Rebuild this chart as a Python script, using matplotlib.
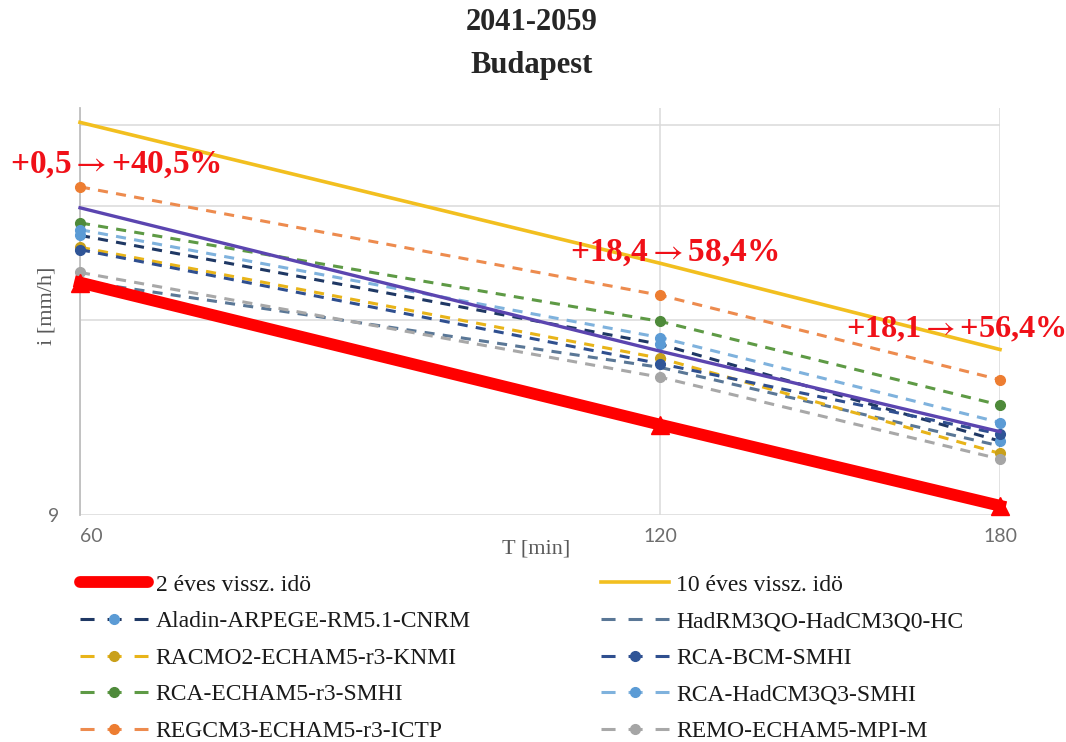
import matplotlib
matplotlib.use("Agg")
import matplotlib.pyplot as plt
from matplotlib.ticker import FixedLocator, FixedFormatter, NullLocator
from matplotlib.lines import Line2D

plt.rcParams["mathtext.fontset"] = "stix"

# Duration of the rain event [min]
durations = [60, 120, 180]
duration_labels = ["60", "120", "180"]

# Rain intensity i [mm/h]
ret_2yr = [20.55, 12.4, 9.3]
ret_10yr = [36.3, 22.0, 16.2]
ensemble_mean = [26.8, 16.1, 12.1]
aladin = [24.3, 16.5, 11.7]
hadrm3 = [20.65, 15.2, 11.5]
racmo2 = [23.3, 15.7, 11.2]
rca_bcm = [23.1, 15.4, 12.0]
rca_echam5 = [25.4, 17.9, 13.3]
rca_hadcm3q3 = [24.8, 16.9, 12.5]
regcm3 = [28.87, 19.64, 14.55]
remo = [21.3, 14.68, 10.98]

y_ticks = [9, 18, 27, 36]
y_tick_labels = ["9", "", "", ""]

change_labels = ["+0,5$\\rightarrow$+40,5%", "+18,4$\\rightarrow$58,4%",
                 "+18,1$\\rightarrow$+56,4%"]

W, H = 1066, 742
fig = plt.figure(figsize=(W / 100, H / 100), dpi=100)
ax = fig.add_axes([80 / W, 1 - 515 / H, 920 / W, 407 / H])
ax.set_xscale("log")
ax.set_yscale("log")
ax.set_xlim(60, 180)
ax.set_ylim(9, 38.2)

serif = ["Liberation Serif", "DejaVu Serif"]

# model series: (label, values, line colour, marker colour or None)
models = [
    ("Aladin-ARPEGE-RM5.1-CNRM", aladin, "#1F3864", "#5B9BD5"),
    ("HadRM3QO-HadCM3Q0-HC", hadrm3, "#5A7796", None),
    ("RACMO2-ECHAM5-r3-KNMI", racmo2, "#E8B419", "#C9A01A"),
    ("RCA-BCM-SMHI", rca_bcm, "#2F4F8F", "#2F5597"),
    ("RCA-ECHAM5-r3-SMHI", rca_echam5, "#5E9A45", "#4E8A3A"),
    ("RCA-HadCM3Q3-SMHI", rca_hadcm3q3, "#7FB2DD", "#5B9BD5"),
    ("REGCM3-ECHAM5-r3-ICTP", regcm3, "#ED8B4E", "#ED7D31"),
    ("REMO-ECHAM5-MPI-M", remo, "#A8A8A8", "#A5A5A5"),
]

dash = (3.3, 2.7)
legend_dash = (4.6, 4.25)
lw_model = 2.2
handles = {}
for label, vals, lc, mc in models:
    kw = dict(color=lc, lw=lw_model, clip_on=False, zorder=3)
    if mc is not None:
        kw.update(marker="o", markersize=7, markerfacecolor=mc,
                  markeredgecolor=mc)
    ax.plot(durations, vals, dashes=dash, **kw)
    handles[label] = Line2D([], [], dashes=legend_dash, label=label, **kw)

ax.plot(durations, ensemble_mean, color="#5B45B0", lw=2.4, zorder=4,
        clip_on=False)

h2, = ax.plot(durations, ret_2yr, color="#FF0000", lw=8.5, marker="^",
              markersize=13, markerfacecolor="#FF0000",
              markeredgecolor="#FF0000", clip_on=False, zorder=5,
              label="2 éves vissz. idö")
h10, = ax.plot(durations, ret_10yr, color="#F2BF1F", lw=2.6, clip_on=False,
               zorder=5, label="10 éves vissz. idö")
h2_leg = Line2D([], [], color="#FF0000", lw=8.5, solid_capstyle="round",
                label="2 éves vissz. idö")

# axes styling
for s in ["top", "right", "bottom"]:
    ax.spines[s].set_visible(False)
ax.spines["left"].set_color("#BFBFBF")
ax.spines["left"].set_linewidth(1.3)

ax.xaxis.set_major_locator(FixedLocator(durations))
ax.xaxis.set_major_formatter(FixedFormatter(duration_labels))
ax.xaxis.set_minor_locator(NullLocator())
ax.yaxis.set_major_locator(FixedLocator(y_ticks))
ax.yaxis.set_major_formatter(FixedFormatter(y_tick_labels))
ax.yaxis.set_minor_locator(NullLocator())
ax.tick_params(length=0, labelsize=14, labelcolor="#6E6E6E")
ax.tick_params(axis="x", pad=9)
ax.tick_params(axis="y", pad=15)
for t in ax.get_xticklabels():
    t.set_fontfamily("Lato")
for t in ax.get_yticklabels():
    t.set_fontfamily("Lato")
ax.get_xticklabels()[0].set_horizontalalignment("left")
ax.grid(True, color="#DADADA", lw=1.1)
ax.set_axisbelow(True)

# titles and axis labels
fig.text(532 / W, 1 - 23 / H, "2041-2059", ha="center", va="center",
         fontsize=22, fontweight="bold", family=serif, color="#262626")
fig.text(532 / W, 1 - 66 / H, "Budapest", ha="center", va="center",
         fontsize=22, fontweight="bold", family=serif, color="#262626")
fig.text(536 / W, 1 - 549 / H, "T [min]", ha="center", va="center",
         fontsize=16, family=serif, color="#595959")
fig.text(47 / W, 1 - 306 / H, "i [mm/h]", ha="center", va="center",
         fontsize=16, family=serif, color="#595959", rotation=90)

# change ranges of the model ensemble relative to the 2-year intensity
ann_pos = [(10, 165), (570, 253), (846, 330)]
ann_size = [24, 24, 23.2]
for txt, (px, py), fs in zip(change_labels, ann_pos, ann_size):
    fig.text(px / W, 1 - py / H, txt, ha="left", va="center", fontsize=fs,
             fontweight="bold", family=serif, color="#F01018")

order = [h2_leg, handles["Aladin-ARPEGE-RM5.1-CNRM"],
         handles["RACMO2-ECHAM5-r3-KNMI"], handles["RCA-ECHAM5-r3-SMHI"],
         handles["REGCM3-ECHAM5-r3-ICTP"],
         h10, handles["HadRM3QO-HadCM3Q0-HC"], handles["RCA-BCM-SMHI"],
         handles["RCA-HadCM3Q3-SMHI"], handles["REMO-ECHAM5-MPI-M"]]
leg = fig.legend(handles=order, labels=[h.get_label() for h in order],
                 ncol=2, loc="upper left", bbox_to_anchor=(80 / W, 1 - 574 / H),
                 frameon=False, prop={"family": serif, "size": 17},
                 handlelength=2.9, handletextpad=0.3, columnspacing=5.5,
                 labelspacing=0.64, borderpad=0, borderaxespad=0,
                 numpoints=1)
for t in leg.get_texts():
    t.set_color("#1A1A1A")

fig.savefig("out.png", dpi=100)
